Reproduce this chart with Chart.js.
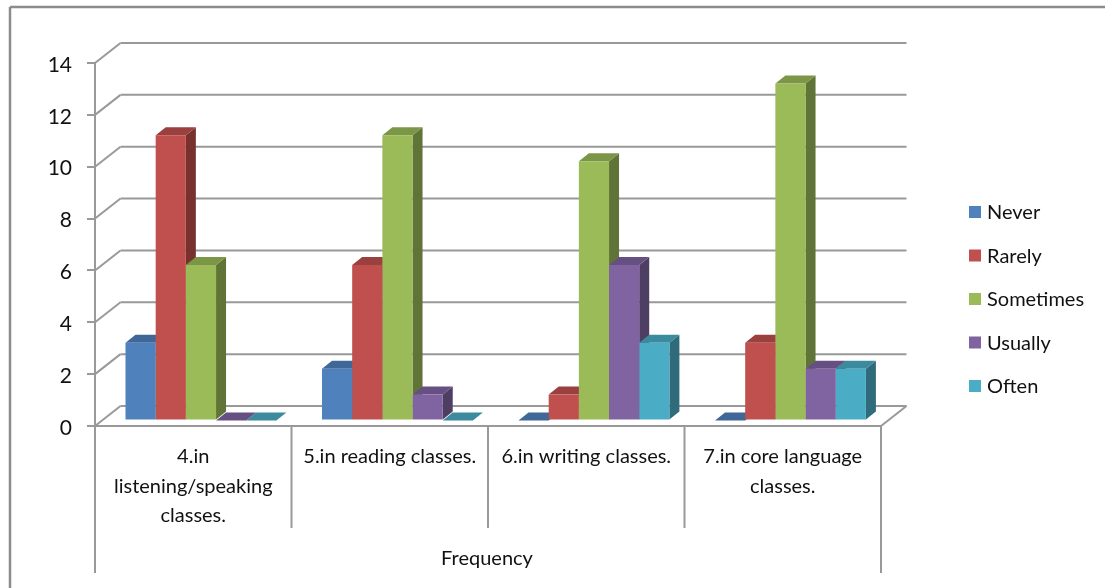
<!DOCTYPE html>
<html>
<head>
<meta charset="utf-8">
<style>
  html, body { margin: 0; padding: 0; background: #fff; }
  #wrap { position: relative; width: 1105px; height: 588px; }
</style>
<script src="https://cdn.jsdelivr.net/npm/chart.js@4"></script>
</head>
<body>
<div id="wrap"><canvas id="myChart" width="1105" height="588"></canvas></div>
<script>
let categories = [
    ['4.in', 'listening/speaking', 'classes.'],
    '5.in reading classes.',
    '6.in writing classes.',
    ['7.in core language', 'classes.']
];
let groupLabel = 'Frequency';
let seriesNames = ['Never', 'Rarely', 'Sometimes', 'Usually', 'Often'];
let never = [3, 2, 0, 0];
let rarely = [11, 6, 1, 3];
let sometimes = [6, 11, 10, 13];
let usually = [0, 1, 6, 2];
let often = [0, 0, 3, 2];
let seriesColors = ['#4f81bd', '#c0504d', '#9bbb59', '#8064a2', '#4bacc6'];
let yTicks = [0, 2, 4, 6, 8, 10, 12, 14];

const lineGray = '#999999';
const fontName = 'Lato, sans-serif';
// how far the back wall sits from the front plane
const wallX = 25.5, wallY = 20;
// bars stand a bit behind the front plane, and have this much depth
const barShiftX = 7.7, barShiftY = -5.5;
const depthX = 10, depthY = 8;

function shade(hex, f){
    let n = parseInt(hex.slice(1), 16);
    let r = Math.round((n >> 16) * f), g = Math.round(((n >> 8) & 255) * f), b = Math.round((n & 255) * f);
    return 'rgb(' + r + ',' + g + ',' + b + ')';
}

function quad(ctx, pts, color){
    ctx.fillStyle = color;
    ctx.beginPath();
    ctx.moveTo(pts[0][0], pts[0][1]);
    for (let i = 1; i < pts.length; i++) ctx.lineTo(pts[i][0], pts[i][1]);
    ctx.closePath();
    ctx.fill();
}

function line(ctx, x1, y1, x2, y2){
    ctx.beginPath();
    ctx.moveTo(x1, y1);
    ctx.lineTo(x2, y2);
    ctx.stroke();
}

// outer border, only the top and left edges are in view
let framePlugin = {
    id: 'frame',
    beforeDraw(chart){
        let ctx = chart.ctx;
        ctx.save();
        ctx.strokeStyle = '#8c8c8c';
        ctx.lineWidth = 2.5;
        line(ctx, 10, 588, 10, 7);
        line(ctx, 10, 7, 1105, 7);
        ctx.restore();
    }
};

// side walls, back grid lines, floor and the top/side faces of the bars
let boxPlugin = {
    id: 'box',
    beforeDatasetsDraw(chart){
        let ctx = chart.ctx, area = chart.chartArea, y = chart.scales.y;
        ctx.save();
        ctx.strokeStyle = lineGray;
        ctx.lineWidth = 2;
        yTicks.forEach(v => {
            let py = y.getPixelForValue(v);
            line(ctx, area.left, py, area.left + wallX, py - wallY);
            line(ctx, area.left + wallX, py - wallY, area.right + wallX, py - wallY);
        });
        line(ctx, area.right, area.bottom, area.right + wallX, area.bottom - wallY);
        ctx.restore();

        ctx.save();
        ctx.translate(barShiftX, barShiftY);
        chart.data.datasets.forEach((ds, i) => {
            let color = seriesColors[i];
            chart.getDatasetMeta(i).data.forEach(bar => {
                let l = bar.x - bar.width / 2, r = bar.x + bar.width / 2;
                quad(ctx, [[r, bar.y], [r + depthX, bar.y - depthY], [r + depthX, bar.base - depthY], [r, bar.base]], shade(color, 0.62));
                quad(ctx, [[l, bar.y], [l + depthX, bar.y - depthY], [r + depthX, bar.y - depthY], [r, bar.y]], shade(color, 0.8));
            });
        });
    },
    afterDatasetsDraw(chart){
        chart.ctx.restore();
    },
    afterDraw(chart){
        let ctx = chart.ctx, area = chart.chartArea;
        ctx.save();
        ctx.strokeStyle = lineGray;
        ctx.lineWidth = 2;
        // category dividers below the axis, the outer two run down past the group label
        let step = (area.right - area.left) / categories.length;
        for (let i = 0; i <= categories.length; i++){
            let px = area.left + i * step;
            let outer = i === 0 || i === categories.length;
            line(ctx, px, area.bottom, px, outer ? 573 : 528);
        }
        ctx.fillStyle = '#111';
        ctx.font = '20px ' + fontName;
        ctx.textAlign = 'center';
        ctx.textBaseline = 'middle';
        ctx.fillText(groupLabel, (area.left + area.right) / 2 - 1, 559);

        // legend
        ctx.textAlign = 'left';
        seriesNames.forEach((name, i) => {
            let ly = 212 + i * 43.5;
            ctx.fillStyle = seriesColors[i];
            ctx.fillRect(969, ly - 6, 12, 12);
            ctx.fillStyle = '#111';
            ctx.fillText(name, 987, ly + 1);
        });
        ctx.restore();
    }
};

let ctx = document.getElementById('myChart').getContext('2d');
let chart = new Chart(ctx, {
    type: 'bar',
    data: {
        labels: categories,
        datasets: [never, rarely, sometimes, usually, often].map((values, i) => ({
            label: seriesNames[i],
            data: values,
            backgroundColor: seriesColors[i],
            categoryPercentage: 0.768,
            barPercentage: 1,
            clip: false
        }))
    },
    options: {
        responsive: false,
        animation: false,
        layout: { padding: { left: 0, top: 63, right: 224, bottom: 42 } },
        plugins: {
            legend: { display: false },
            tooltip: { enabled: false }
        },
        scales: {
            x: {
                afterFit(scale){ scale.height = 120; },
                grid: { drawOnChartArea: false, drawTicks: false },
                border: { color: lineGray, width: 2 },
                ticks: {
                    color: '#111',
                    font: { family: fontName, size: 20, lineHeight: 1.475 },
                    padding: 16,
                    autoSkip: false,
                    maxRotation: 0
                }
            },
            y: {
                min: 0,
                max: 14,
                afterFit(scale){ scale.width = 95; },
                afterBuildTicks(scale){ scale.ticks = yTicks.map(v => ({ value: v })); },
                grid: { drawOnChartArea: false, color: lineGray, lineWidth: 2, tickLength: 8 },
                border: { color: lineGray, width: 2 },
                ticks: {
                    color: '#111',
                    font: { family: fontName, size: 21 },
                    padding: 15,
                    labelOffset: 2
                }
            }
        }
    },
    plugins: [framePlugin, boxPlugin]
});
</script>
</body>
</html>
